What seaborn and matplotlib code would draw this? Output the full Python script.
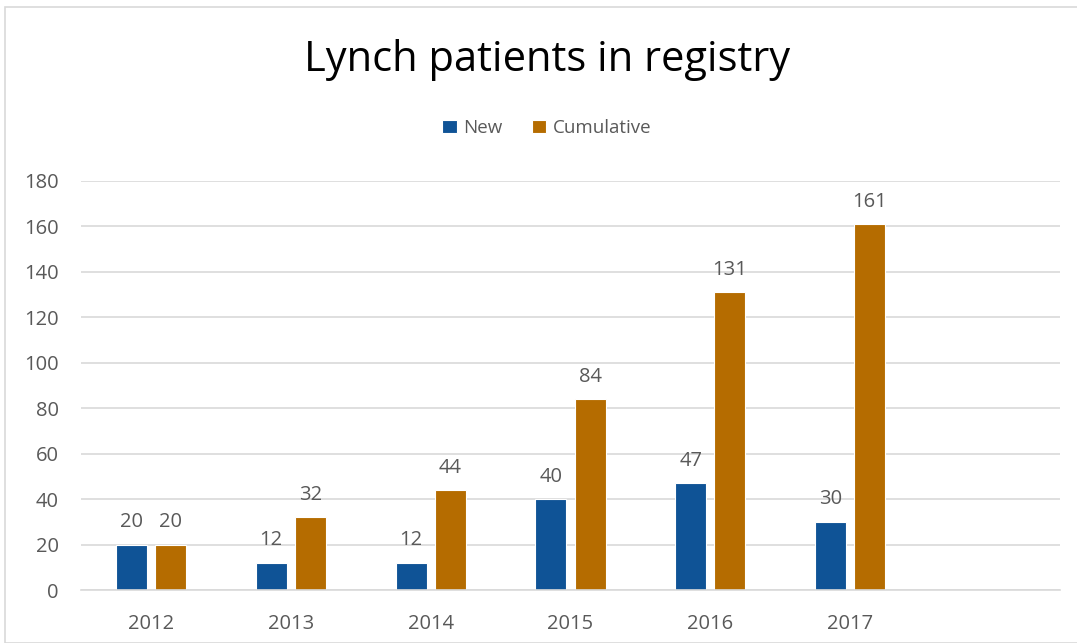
import matplotlib
matplotlib.use("Agg")
import matplotlib.pyplot as plt
import seaborn as sns
import pandas as pd
from matplotlib.patches import Rectangle

years = ["2012", "2013", "2014", "2015", "2016", "2017", " "]
new_vals = [20, 12, 12, 40, 47, 30, None]
cum_vals = [20, 32, 44, 84, 131, 161, None]
series = ["New", "Cumulative"]
colors = ["#0F5396", "#B56C00"]

rows = []
for y, n, c in zip(years, new_vals, cum_vals):
    rows.append({"year": y, "series": "New", "value": n})
    rows.append({"year": y, "series": "Cumulative", "value": c})
df = pd.DataFrame(rows)

sns.set_theme(style="white")
plt.rcParams["font.family"] = ["Open Sans", "DejaVu Sans"]
text_col = "#595959"
grid_col = "#D9D9D9"

fig = plt.figure(figsize=(10.77, 6.43), dpi=100)
ax = fig.add_axes([81/1077, 1-590/643, (1060-81)/1077, (590-181)/643])

sns.barplot(data=df, x="year", y="value", hue="series", order=years,
            hue_order=series, palette=colors, width=0.56, gap=0.21,
            saturation=1, ax=ax, legend=True, linewidth=0.8)

ax.set_xlim(-0.5, 6.5)
ax.set_ylim(0, 180)
ax.set_yticks(range(0, 181, 20))
ax.yaxis.grid(True, color=grid_col, linewidth=1.2)
ax.set_axisbelow(True)
for s in ["top", "right", "left"]:
    ax.spines[s].set_visible(False)
ax.spines["bottom"].set_color(grid_col)
ax.spines["bottom"].set_linewidth(1.2)
ax.tick_params(axis="both", length=0, labelsize=14.5, colors=text_col)
ax.tick_params(axis="x", pad=17)
ax.tick_params(axis="y", pad=16)
ax.set_xlabel("")
ax.set_ylabel("")

for cont in ax.containers:
    labels = [f"{int(v)}" if v == v and v is not None else "" for v in cont.datavalues]
    ax.bar_label(cont, labels=labels, padding=9, fontsize=14.5, color=text_col)

leg = ax.legend(loc="center", bbox_to_anchor=(547/1077, 1-128/643),
                bbox_transform=fig.transFigure, ncol=2, frameon=False,
                fontsize=13.5, handlelength=0.75, handleheight=0.75,
                handletextpad=0.35, columnspacing=1.6)
for t in leg.get_texts():
    t.set_color(text_col)

fig.text(547/1077, 1-60/643, "Lynch patients in registry", ha="center",
         va="center", fontsize=30, color="black")

fig.patches.append(Rectangle((5/1077, 0), 1, 1-7/643, transform=fig.transFigure,
                             fill=False, edgecolor=grid_col, linewidth=1.2))

fig.savefig("out.png", dpi=100)
